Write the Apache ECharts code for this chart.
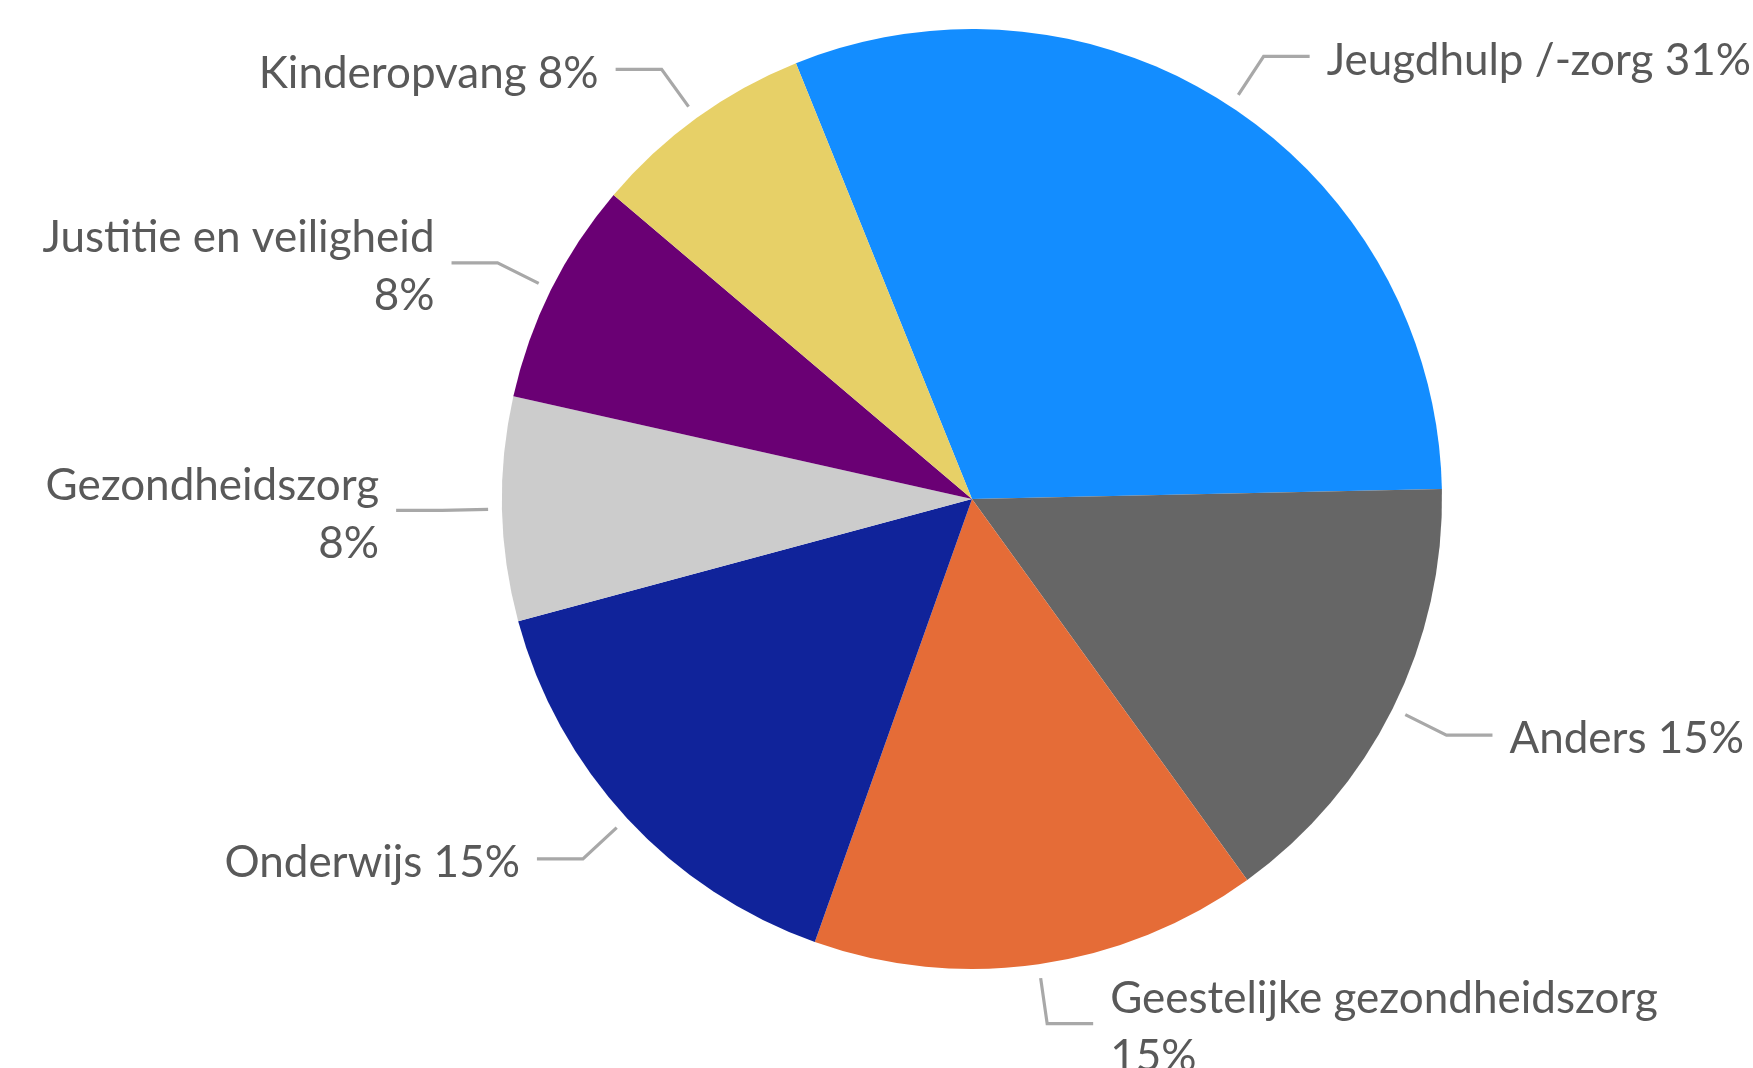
<!DOCTYPE html>
<html>
<head>
<meta charset="utf-8">
<script src="https://cdn.jsdelivr.net/npm/echarts@6/dist/echarts.min.js"></script>
<style>
  html, body { margin: 0; padding: 0; background: #ffffff; }
  #chart { width: 1753px; height: 1068px; }
</style>
</head>
<body>
<div id="chart"></div>
<script>
// Data (counts; percentages are derived by ECharts)
var categories = ['Jeugdhulp /-zorg', 'Anders', 'Geestelijke gezondheidszorg', 'Onderwijs', 'Gezondheidszorg', 'Justitie en veiligheid', 'Kinderopvang'];
var values = [4, 2, 2, 2, 1, 1, 1];
var colors = ['#138DFF', '#666666', '#E56C37', '#10239A', '#CCCCCC', '#6A0074', '#E7D067'];
// Categories whose percentage goes on a second line
var wrappedLabels = ['Geestelijke gezondheidszorg', 'Justitie en veiligheid', 'Gezondheidszorg'];

var LINE_GAP = 14;   // gap between pie edge and leader line start
var TEXT_SHIFT = 4;  // small downward nudge of label text

var chart = echarts.init(document.getElementById('chart'), null, { renderer: 'canvas' });
chart.setOption({
  backgroundColor: '#ffffff',
  animation: false,
  series: [{
    type: 'pie',
    center: [972, 499],
    radius: 470,
    startAngle: 112,
    clockwise: true,
    avoidLabelOverlap: false,
    percentPrecision: 0,
    data: categories.map(function (c, i) {
      return { name: c, value: values[i], itemStyle: { color: colors[i] } };
    }),
    itemStyle: { borderWidth: 0 },
    label: {
      show: true,
      position: 'outside',
      fontFamily: 'Lato',
      fontSize: 44,
      lineHeight: 58,
      color: '#595959',
      distanceToLabelLine: 17,
      formatter: function (p) {
        var sep = wrappedLabels.indexOf(p.name) >= 0 ? '\n' : ' ';
        return p.name + sep + p.percent + '%';
      }
    },
    labelLine: {
      show: true,
      length: 60,
      length2: 46,
      smooth: false,
      lineStyle: { color: '#A8A8A8', width: 3.2 }
    },
    labelLayout: function (p) {
      var pts = p.labelLinePoints;
      if (!pts || pts.length < 3) return { dy: TEXT_SHIFT };
      var a = pts[0], b = pts[1];
      var dx = b[0] - a[0], dy = b[1] - a[1];
      var len = Math.sqrt(dx * dx + dy * dy);
      if (!len) return { dy: TEXT_SHIFT };
      var k = LINE_GAP / len;
      return {
        dy: TEXT_SHIFT,
        labelLinePoints: [[a[0] + dx * k, a[1] + dy * k], [b[0], b[1]], [pts[2][0], pts[2][1]]]
      };
    }
  }]
});
</script>
</body>
</html>
